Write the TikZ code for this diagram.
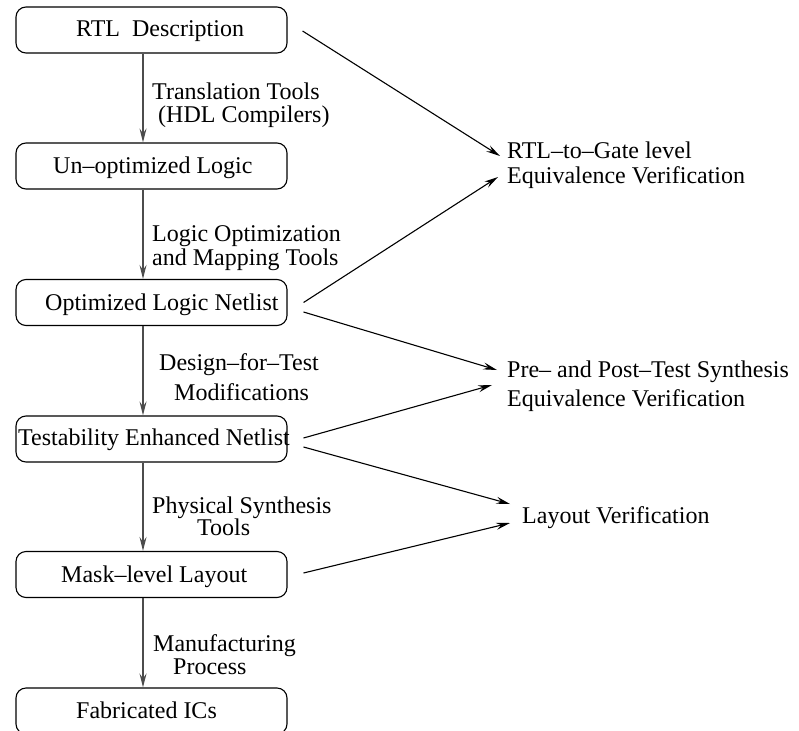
\documentclass[tikz,border=0pt]{standalone}
\usepackage{fontspec}
\setmainfont{Liberation Serif}
\usetikzlibrary{arrows.meta,calc}
\begin{document}
\begin{tikzpicture}[x=1pt,y=-1pt,
  box/.style={draw=black,line width=1.1pt,rounded corners=10pt,minimum width=271pt,minimum height=46pt,inner sep=0pt},
  txt/.style={anchor=base west,inner sep=0pt,font=\fontsize{24}{24}\selectfont},
  tipstyle/.style={-{Stealth[length=14pt,width=7pt,inset=5pt]}},
  varrow/.style={draw=black!70,line width=1.2pt,tipstyle},
  darrow/.style={draw=black,line width=1.1pt,tipstyle}]
\clip (0,0) rectangle (799,730);
\fill[white] (0,0) rectangle (799,730);
% boxes
\node[box] (b1) at (151.5,30) {};
\node[box] (b2) at (151.5,166) {};
\node[box] (b3) at (151.5,302.5) {};
\node[box] (b4) at (151.5,439) {};
\node[box] (b5) at (151.5,574.5) {};
\node[box] (b6) at (151.5,711) {};
% box texts
\node[txt] (l1) at (76,37) {RTL\ \ Description};
\node[txt] (l2) at (53,173) {Un–optimized Logic};
\node[txt] (l3) at (45,310) {Optimized Logic Netlist};
\node[txt] (l4) at (18,445) {Testability Enhanced Netlist};
\node[txt] (l5) at (61,582) {Mask–level Layout};
\node[txt] (l6) at (76,718) {Fabricated ICs};
% step labels
\node[txt] (a1) at (152,100) {Translation Tools};
\node[txt] (a2) at (158,123) {(HDL Compilers)};
\node[txt] (c1) at (152,241) {Logic Optimization};
\node[txt] (c2) at (152,265) {and Mapping Tools};
\node[txt] (d1) at (159,370) {Design–for–Test};
\node[txt] (d2) at (174,400) {Modifications};
\node[txt] (p1) at (152,513) {Physical Synthesis};
\node[txt] (p2) at (197,535) {Tools};
\node[txt] (m1) at (153,651) {Manufacturing};
\node[txt] (m2) at (173,674) {Process};
% right labels
\node[txt] (r1) at (507,158) {RTL–to–Gate level};
\node[txt] (r2) at (507,183) {Equivalence Verification};
\node[txt] (q1) at (507,377) {Pre– and Post–Test Synthesis};
\node[txt] (q2) at (507,406) {Equivalence Verification};
\node[txt] (s1) at (522,523) {Layout Verification};
% vertical arrows
\coordinate (vx) at (143,0);
\draw[varrow] (b1.south -| vx) -- (b2.north -| vx);
\draw[varrow] (b2.south -| vx) -- (b3.north -| vx);
\draw[varrow] (b3.south -| vx) -- (b4.north -| vx);
\draw[varrow] (b4.south -| vx) -- (b5.north -| vx);
\draw[varrow] (b5.south -| vx) -- (b6.north -| vx);
% diagonal arrows
\coordinate (t1) at (500,156);
\coordinate (t2) at (498,177);
\coordinate (t3) at (497,370);
\coordinate (t4) at (492,385);
\coordinate (t5) at (510,504);
\coordinate (t6) at (510,523);
\draw[darrow] ($(b1.east)+(15,1)$) -- (t1);
\draw[darrow] ($(b3.east)+(16,0)$) -- (t2);
\draw[darrow] ($(b3.east)+(16,9.5)$) -- (t3);
\draw[darrow] ($(b4.east)+(16,-1)$) -- (t4);
\draw[darrow] ($(b4.east)+(16,8)$) -- (t5);
\draw[darrow] ($(b5.east)+(16,-1.5)$) -- (t6);
\end{tikzpicture}
\end{document}
